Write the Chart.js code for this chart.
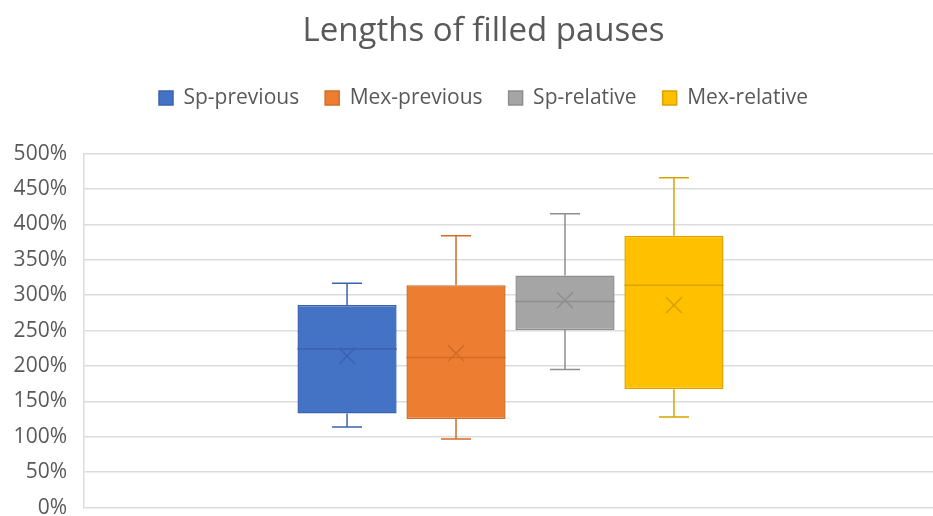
<!DOCTYPE html>
<html>
<head>
<meta charset="utf-8">
<script src="https://cdn.jsdelivr.net/npm/chart.js@4/dist/chart.umd.min.js"></script>
<style>
  html, body { margin: 0; padding: 0; background: #ffffff; overflow: hidden; }
  #wrap { width: 967px; height: 516px; }
</style>
</head>
<body>
<div id="wrap"><canvas id="chart" width="967" height="516"></canvas></div>
<script>
// One category holding four box-and-whisker series (values in percent)
const categories = [''];
const seriesNames = ['Sp-previous', 'Mex-previous', 'Sp-relative', 'Mex-relative'];
const whiskerLow  = [114, 97, 195, 128];
const quartile1   = [133, 125, 251, 167];
const medians     = [224, 212, 291, 314];
const quartile3   = [286, 314, 328, 384];
const whiskerHigh = [317, 384, 415, 466];
const means       = [214, 218, 293, 286];

const fillColors = ['#4472C4', '#ED7D31', '#A5A5A5', '#FFC000'];
const lineColors = ['#3A63AD', '#D26C27', '#8E8E8E', '#D9A300'];

const FONT = '"Open Sans", "DejaVu Sans", sans-serif';
const TEXT = '#595959';
const LEGEND_GAP = 35;   // extra room between legend and plot

// Whiskers, median line and mean marker, placed with the chart's own scales
const boxExtras = {
  id: 'boxExtras',
  afterInit(chart) {
    const legend = chart.legend;
    if (legend) {
      const fit = legend.fit;
      legend.fit = function () { fit.call(this); this.height += LEGEND_GAP; };
    }
  },
  afterDatasetsDraw(chart) {
    const ctx = chart.ctx;
    const y = chart.scales.y;
    chart.data.datasets.forEach((ds, i) => {
      const meta = chart.getDatasetMeta(i);
      if (meta.hidden) return;
      const bar = meta.data[0];
      const cx = bar.x;
      const half = bar.width / 2;
      const capHalf = 15;
      ctx.save();
      ctx.strokeStyle = lineColors[i];
      ctx.lineWidth = 1.5;
      ctx.beginPath();
      // upper whisker
      ctx.moveTo(cx, y.getPixelForValue(quartile3[i]));
      ctx.lineTo(cx, y.getPixelForValue(whiskerHigh[i]));
      ctx.moveTo(cx - capHalf, y.getPixelForValue(whiskerHigh[i]));
      ctx.lineTo(cx + capHalf, y.getPixelForValue(whiskerHigh[i]));
      // lower whisker
      ctx.moveTo(cx, y.getPixelForValue(quartile1[i]));
      ctx.lineTo(cx, y.getPixelForValue(whiskerLow[i]));
      ctx.moveTo(cx - capHalf, y.getPixelForValue(whiskerLow[i]));
      ctx.lineTo(cx + capHalf, y.getPixelForValue(whiskerLow[i]));
      // median
      ctx.moveTo(cx - half, y.getPixelForValue(medians[i]));
      ctx.lineTo(cx + half, y.getPixelForValue(medians[i]));
      ctx.stroke();
      // mean marker
      const my = y.getPixelForValue(means[i]);
      const s = 8;
      ctx.beginPath();
      ctx.moveTo(cx - s, my - s);
      ctx.lineTo(cx + s, my + s);
      ctx.moveTo(cx + s, my - s);
      ctx.lineTo(cx - s, my + s);
      ctx.stroke();
      ctx.restore();
    });
  }
};

const datasets = seriesNames.map((name, i) => ({
  label: name,
  data: [[quartile1[i], quartile3[i]]],
  backgroundColor: fillColors[i],
  borderColor: lineColors[i],
  borderWidth: 1.5,
  borderSkipped: false
}));

new Chart(document.getElementById('chart'), {
  type: 'bar',
  data: { labels: categories, datasets },
  options: {
    responsive: false,
    animation: false,
    devicePixelRatio: 1,
    categoryPercentage: 0.511,
    barPercentage: 0.91,
    layout: { padding: 0 },
    plugins: {
      title: {
        display: true,
        text: 'Lengths of filled pauses',
        color: TEXT,
        font: { family: FONT, size: 33, weight: 'normal' },
        padding: { top: 12, bottom: 10 }
      },
      legend: {
        position: 'top',
        labels: {
          color: TEXT,
          font: { family: FONT, size: 21 },
          boxWidth: 14,
          boxHeight: 14,
          padding: 26
        }
      },
      tooltip: { enabled: false }
    },
    scales: {
      x: { display: false },
      y: {
        min: 0,
        max: 500,
        afterFit(scale) { scale.width = 84; },
        ticks: {
          stepSize: 50,
          padding: 0,
          color: TEXT,
          font: { family: FONT, size: 21, lineHeight: 0.8 },
          callback: v => v + '%'
        },
        grid: { color: '#dcdcdc', lineWidth: 1.5, tickLength: 17, tickColor: 'rgba(0,0,0,0)' },
        border: { color: '#dcdcdc', width: 1.5 }
      },
      // blank margin on the right side of the plot
      yRight: {
        position: 'right',
        min: 0,
        max: 500,
        afterFit(scale) { scale.width = 30; },
        ticks: { display: false },
        grid: { display: false },
        border: { display: false }
      }
    }
  },
  plugins: [boxExtras]
});
</script>
</body>
</html>
